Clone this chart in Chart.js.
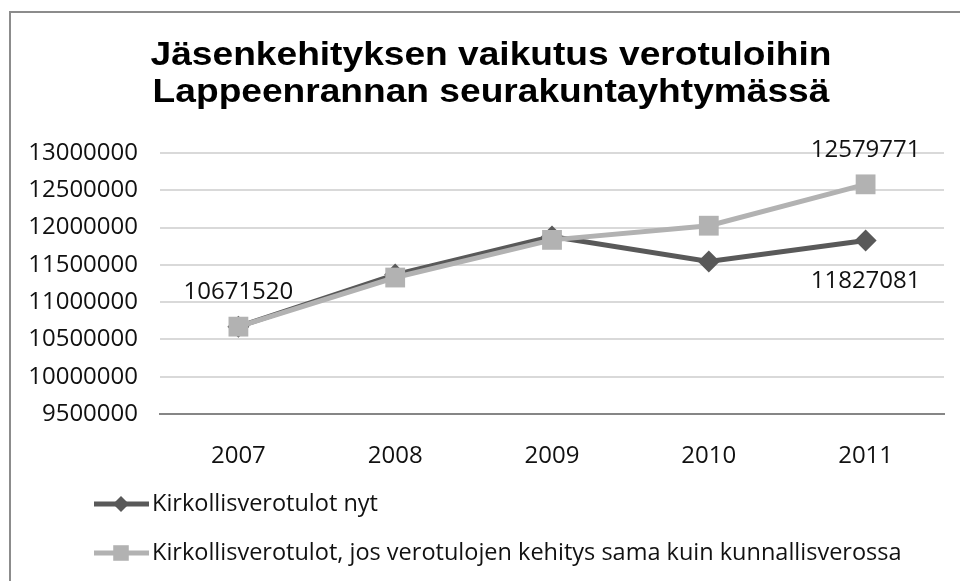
<!DOCTYPE html>
<html>
<head>
<meta charset="utf-8">
<script src="https://cdn.jsdelivr.net/npm/chart.js@4.4.1/dist/chart.umd.min.js"></script>
<style>
    html, body { margin: 0; padding: 0; background: #fff; }
    #wrap { position: relative; width: 960px; height: 581px; }
    #frame { position: absolute; left: 9px; top: 11px; right: -4px; bottom: -4px;
             border-top: 2px solid #8c8c8c; border-left: 2px solid #8c8c8c; pointer-events: none; }
</style>
</head>
<body>
<div id="wrap">
    <canvas id="myChart" width="960" height="581"></canvas>
    <div id="frame"></div>
</div>
<script>
const years = ["2007", "2008", "2009", "2010", "2011"];

const seriesNames = [
    "Kirkollisverotulot nyt",
    "Kirkollisverotulot, jos verotulojen kehitys sama kuin kunnallisverossa",
];

const dataNyt = [10671520, 11370000, 11880000, 11545000, 11827081];
const dataKunnallinen = [10671520, 11330000, 11835000, 12025000, 12579771];

// which points carry a value label: [dataset, index, above?]
const valueLabels = [
    [1, 0, true],
    [1, 4, true],
    [0, 4, false],
];

const titleLines = [
    "Jäsenkehityksen vaikutus verotuloihin",
    "Lappeenrannan seurakuntayhtymässä",
];

const darkGrey = "#595959";
const lightGrey = "#b2b2b2";
const bodyFont = "'Open Sans', 'DejaVu Sans', sans-serif";

// title is drawn by hand so it can sit a little right of the canvas centre
const titlePlugin = {
    id: "bigTitle",
    afterDraw(chart) {
        const c = chart.ctx;
        c.save();
        c.font = "bold 33px 'Liberation Sans', Arial, sans-serif";
        c.fillStyle = "#000";
        c.textAlign = "center";
        c.textBaseline = "alphabetic";
        c.translate(491, 0);
        c.scale(1.125, 1);
        c.fillText(titleLines[0], 0, 65);
        c.fillText(titleLines[1], 0, 102);
        c.restore();
    },
};

const labelPlugin = {
    id: "valueLabels",
    afterDatasetsDraw(chart) {
        const c = chart.ctx;
        c.save();
        c.font = "24px " + bodyFont;
        c.fillStyle = "#111";
        c.textAlign = "center";
        c.textBaseline = "middle";
        valueLabels.forEach(([ds, i, above]) => {
            const pt = chart.getDatasetMeta(ds).data[i];
            const v = chart.data.datasets[ds].data[i];
            c.fillText(String(v), pt.x, above ? pt.y - 34 : pt.y + 41);
        });
        c.restore();
    },
};

const legendPlugin = {
    id: "sideLegend",
    afterDraw(chart) {
        const c = chart.ctx;
        const rows = [504, 553];
        const markerSize = [8, 11];
        c.save();
        chart.data.datasets.forEach((ds, k) => {
            const y = rows[k];
            c.strokeStyle = ds.borderColor;
            c.lineWidth = 5;
            c.beginPath();
            c.moveTo(94, y);
            c.lineTo(149, y);
            c.stroke();
            c.fillStyle = ds.backgroundColor;
            Chart.helpers.drawPoint(c, {
                pointStyle: ds.pointStyle,
                radius: markerSize[k],
                borderWidth: 0,
                rotation: 0,
            }, 121, y);
            c.fillStyle = "#111";
            c.font = "23.5px " + bodyFont;
            c.textBaseline = "middle";
            c.textAlign = "left";
            c.fillText(seriesNames[k], 152, y);
        });
        c.restore();
    },
};

const ctx = document.getElementById("myChart");

const chart = new Chart(ctx, {
    type: "line",
    data: {
        labels: years,
        datasets: [
            {
                label: seriesNames[0],
                data: dataNyt,
                borderColor: darkGrey,
                backgroundColor: darkGrey,
                borderWidth: 5,
                pointStyle: "rectRot",
                pointRadius: 11,
                pointBorderWidth: 0,
                tension: 0,
                order: 1,
            },
            {
                label: seriesNames[1],
                data: dataKunnallinen,
                borderColor: lightGrey,
                backgroundColor: lightGrey,
                borderWidth: 5,
                pointStyle: "rect",
                pointRadius: 14,
                pointBorderWidth: 0,
                tension: 0,
                order: 0,
            },
        ],
    },
    options: {
        responsive: false,
        animation: false,
        layout: {
            padding: { left: 10, right: 16, top: 153, bottom: 0 },
        },
        scales: {
            x: {
                offset: true,
                grid: { display: false, offset: true },
                border: { display: true, color: "#868686", width: 2 },
                ticks: {
                    color: "#111",
                    font: { family: bodyFont, size: 24 },
                    padding: 20,
                },
                afterFit(scale) {
                    scale.height = 167;
                },
            },
            y: {
                min: 9500000,
                max: 13000000,
                border: { display: false },
                grid: {
                    color: "#d9d9d9",
                    lineWidth: 2,
                    drawTicks: false,
                },
                ticks: {
                    stepSize: 500000,
                    color: "#111",
                    font: { family: bodyFont, size: 24 },
                    padding: 22,
                    callback: (v) => String(v),
                },
                afterFit(scale) {
                    scale.width = 150;
                },
            },
        },
        plugins: {
            legend: { display: false },
            tooltip: { enabled: false },
            title: { display: false },
        },
    },
    plugins: [titlePlugin, labelPlugin, legendPlugin],
});
</script>
</body>
</html>
